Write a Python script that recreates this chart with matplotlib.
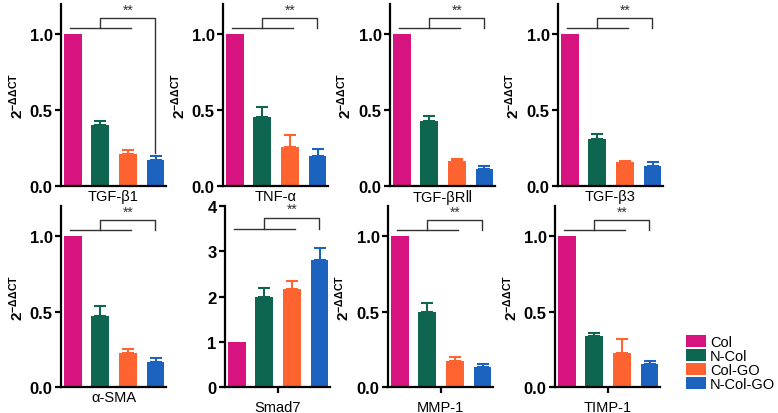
import matplotlib
matplotlib.use("Agg")
import matplotlib.pyplot as plt
from matplotlib.patches import Patch
import numpy as np

groups = ["Col", "N-Col", "Col-GO", "N-Col-GO"]
colors = ["#D6137F", "#0F6650", "#FF6430", "#1C63C0"]

genes = ["TGF-β1", "TNF-α", "TGF-βRⅡ", "TGF-β3", "α-SMA", "Smad7", "MMP-1", "TIMP-1"]
tgfb1 = [1.0, 0.40, 0.21, 0.17]
tgfb1_err = [0.0, 0.03, 0.025, 0.025]
tnfa = [1.0, 0.455, 0.255, 0.195]
tnfa_err = [0.0, 0.065, 0.08, 0.05]
tgfbr2 = [1.0, 0.43, 0.165, 0.115]
tgfbr2_err = [0.0, 0.03, 0.015, 0.02]
tgfb3 = [1.0, 0.31, 0.155, 0.13]
tgfb3_err = [0.0, 0.035, 0.012, 0.025]
asma = [1.0, 0.47, 0.225, 0.165]
asma_err = [0.0, 0.065, 0.03, 0.03]
smad7 = [1.0, 2.0, 2.17, 2.8]
smad7_err = [0.0, 0.18, 0.18, 0.27]
mmp1 = [1.0, 0.495, 0.17, 0.13]
mmp1_err = [0.0, 0.065, 0.03, 0.025]
timp1 = [1.0, 0.34, 0.225, 0.155]
timp1_err = [0.0, 0.02, 0.095, 0.018]

values = [tgfb1, tnfa, tgfbr2, tgfb3, asma, smad7, mmp1, timp1]
errors = [tgfb1_err, tnfa_err, tgfbr2_err, tgfb3_err, asma_err, smad7_err, mmp1_err, timp1_err]

plt.rcParams['font.family'] = ['Liberation Sans', 'DejaVu Sans']
plt.rcParams['mathtext.fontset'] = 'custom'
plt.rcParams['mathtext.rm'] = 'Liberation Sans'
plt.rcParams['mathtext.bf'] = 'Liberation Sans:bold'

fig = plt.figure(figsize=(7.78, 4.14), dpi=100)
W, H = 778, 414
lefts_row = [[61, 223, 390, 558], [61, 225, 388, 555]]
bottoms = [187, 388]
tops = [5, 207]
width_px = 105

x = np.arange(4)
for i in range(8):
    r, c = divmod(i, 4)
    l = lefts_row[r][c]
    ax = fig.add_axes([l / W, 1 - bottoms[r] / H, width_px / W, (bottoms[r] - tops[r]) / H])
    v = values[i]
    e = errors[i]
    ax.bar(x, v, width=0.65, color=colors, zorder=2)
    for j in range(4):
        if e[j] > 0:
            ax.errorbar(x[j], v[j], yerr=[[0], [e[j]]], fmt='none', ecolor=colors[j],
                        elinewidth=1.5, capsize=4, capthick=1.5, zorder=1)
    ax.set_xlim(-0.42, 3.38)
    is_smad = genes[i] == "Smad7"
    if is_smad:
        ymax = 4.0
        ax.set_yticks([0, 1, 2, 3, 4])
        ax.set_yticklabels(["0", "1", "2", "3", "4"])
        y1, y2, ys = 3.5, 3.73, 3.78
        drop = 3.5
    else:
        ymax = 1.2
        ax.set_yticks([0, 0.5, 1.0])
        ax.set_yticklabels(["0.0", "0.5", "1.0"])
        y1, y2, ys = 1.04, 1.105, 1.115
        drop = v[3] + e[3] + 0.02 if i == 0 else 1.04
    ax.set_ylim(0, ymax)
    # significance bracket
    ax.plot([-0.1, 2.1], [y1, y1], color='#333333', lw=1.0)
    ax.plot([1.0, 1.0, 2.98, 2.98], [y1, y2, y2, drop], color='#333333', lw=1.0)
    ax.text(2.0, ys, "**", ha='center', va='bottom', fontsize=10, color='#333333')
    for s in ['top', 'right']:
        ax.spines[s].set_visible(False)
    for s in ['left', 'bottom']:
        ax.spines[s].set_linewidth(1.6)
    if r == 1 and c >= 1:
        ax.set_xticks([1.5])
        ax.set_xticklabels([""])
        ax.tick_params(axis='x', length=4, width=1.6)
    else:
        ax.set_xticks([])
    ax.set_xlabel(genes[i], fontsize=10.5, labelpad=2)
    ax.tick_params(axis='y', length=4, width=1.6, labelsize=12, pad=2)
    for t in ax.get_yticklabels():
        t.set_fontweight('bold')
    if not is_smad:
        ax.set_ylabel(r'$\mathbf{2^{-\Delta\Delta CT}}$', fontsize=11, labelpad=3)

handles = [Patch(facecolor=colors[k], label=groups[k]) for k in range(4)]
fig.legend(handles=handles, loc='lower left', bbox_to_anchor=(686 / W, 1 - 392 / H),
           frameon=False, fontsize=10.5, handlelength=1.4, handleheight=0.85,
           handletextpad=0.25, labelspacing=0.0, borderpad=0, borderaxespad=0)

fig.savefig("out.png", dpi=100)
